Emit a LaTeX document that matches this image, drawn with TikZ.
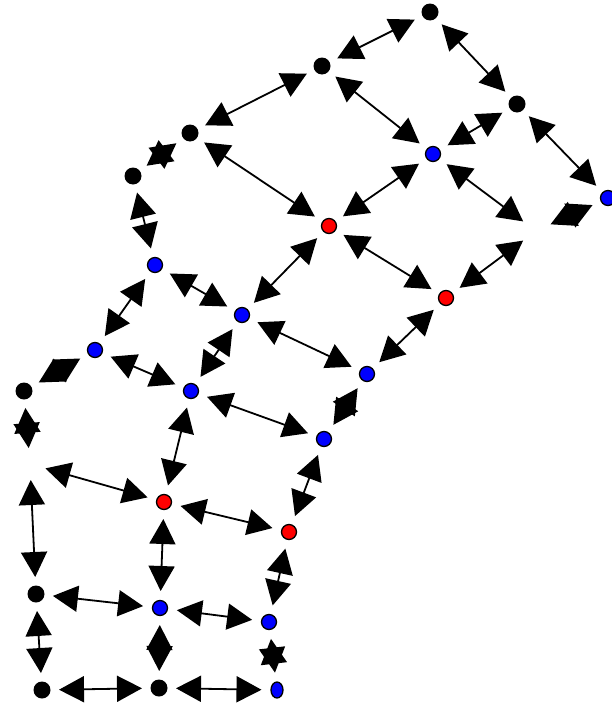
\documentclass[tikz,border=0pt]{standalone}
\usetikzlibrary{arrows.meta,shapes.geometric}
\begin{document}
\begin{tikzpicture}
[x=1pt,y=-1pt,
  blacknode/.style={shape=circle,fill=black,inner sep=0pt,minimum size=17pt,outer sep=8.5pt},%
  bluenode/.style={shape=circle,draw,fill=blue,line width=1.3pt,inner sep=0pt,minimum size=15pt,outer sep=9.5pt},%
  rednode/.style={bluenode,fill=red},%
  smallnode/.style={shape=ellipse,draw,fill=blue,line width=1.3pt,inner sep=0pt,minimum width=12pt,minimum height=16pt,outer sep=9.5pt},%
  hiddennode/.style={shape=circle,inner sep=0pt,minimum size=0pt,outer sep=16pt},%
  linedecorate/.style={{Triangle[length=25pt,width=26pt]}-{Triangle[length=25pt,width=26pt]},line width=1.8pt}]
\useasboundingbox (0,0) rectangle (611,704);
%% black nodes
\foreach \nodename/\x/\y in {k1/430/12, k2/322/66, k3/517/104, k4/190/133,
  k5/133/176, k6/24/391, k7/36/594, k8/42/690, k9/159/688} {
  \node (\nodename) at (\x,\y) [blacknode] {};
}
%% blue nodes
\foreach \nodename/\x/\y in {u1/433/154, u2/608/198, u3/155/265, u4/242/315,
  u5/95/350, u6/191/391, u7/367/374, u8/324/439, u9/160/608, u10/269/622} {
  \node (\nodename) at (\x,\y) [bluenode] {};
}
\node (u11) at (277,690) [smallnode] {};
%% red nodes
\foreach \nodename/\x/\y in {r1/329/226, r2/446/298, r3/164/502, r4/289/532} {
  \node (\nodename) at (\x,\y) [rednode] {};
}
%% hidden nodes
\foreach \nodename/\x/\y in {h1/536/231, h2/30/464} {
  \node (\nodename) at (\x,\y) [hiddennode] {};
}
%% edges
\path
\foreach \startnode/\endnode in {k1/k2, k1/k3, k2/k4, k2/u1, k3/u1, k3/u2,
  k4/k5, k4/r1, k5/u3, u1/r1, u1/h1, u2/h1, r2/h1, u3/u4, u3/u5, u4/r1,
  u4/u6, u4/u7, u5/k6, u5/u6, u6/r3, u6/u8, r1/r2, r2/u7, u7/u8, u8/r4,
  r3/h2, k6/h2, h2/k7, r3/r4, r3/u9, r4/u10, k7/u9, k7/k8, u9/u10, u9/k9,
  u10/u11, k8/k9, k9/u11} {
  (\startnode) edge[linedecorate] (\endnode)
};
\end{tikzpicture}
\end{document}
